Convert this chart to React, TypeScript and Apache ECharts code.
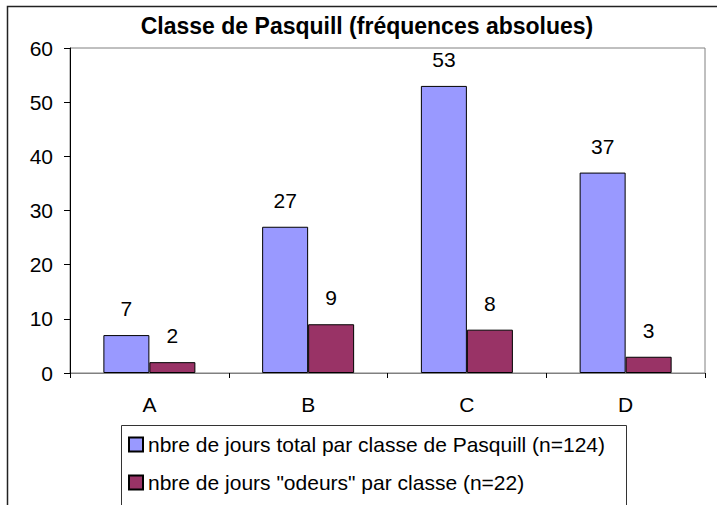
import React, { useEffect, useRef } from "react";
import * as echarts from "echarts";

const categories = ["A", "B", "C", "D"];
const totalDays = [7, 27, 53, 37];
const odourDays = [2, 9, 8, 3];
const seriesNames = [
  "nbre de jours total par classe de Pasquill (n=124)",
  'nbre de jours "odeurs" par classe (n=22)',
];
const titleText = "Classe de Pasquill (fréquences absolues)";

const FONT = "Liberation Sans, Arial, sans-serif";

export default function App() {
  const ref = useRef<HTMLDivElement>(null);
  useEffect(() => {
    if (!ref.current) return;
    const chart = echarts.init(ref.current, undefined, { renderer: "svg" });
    const label = {
      show: true,
      position: "top",
      distance: 16,
      color: "#000",
      fontSize: 21,
      fontFamily: FONT,
    };
    chart.setOption({
      animation: false,
      backgroundColor: "#fff",
      textStyle: { fontFamily: FONT },
      title: {
        text: titleText,
        left: 367,
        textAlign: "center",
        top: 14,
        padding: 0,
        textStyle: { fontSize: 23, fontWeight: "bold", color: "#000", fontFamily: FONT },
      },
      graphic: [
        {
          type: "rect",
          shape: { x: 7.5, y: 6.5, width: 760, height: 560 },
          style: { fill: "none", stroke: "#222", lineWidth: 1.5 },
          z: -1,
        },
        {
          type: "rect",
          shape: { x: 121.5, y: 425.5, width: 505, height: 200 },
          style: { fill: "none", stroke: "#333", lineWidth: 1 },
          z: 1,
        },
      ],
      grid: {
        left: 70,
        top: 48,
        right: 12,
        bottom: 132,
        show: true,
        borderColor: "#808080",
        borderWidth: 1,
        backgroundColor: "transparent",
      },
      legend: {
        orient: "vertical",
        left: 128,
        top: 434,
        itemWidth: 14,
        itemHeight: 14,
        itemGap: 17,
        icon: "rect",
        padding: 0,
        textStyle: { fontSize: 21, color: "#000", fontFamily: FONT },
        data: seriesNames,
      },
      xAxis: {
        type: "category",
        data: categories,
        axisLine: { lineStyle: { color: "#808080", width: 1 } },
        axisTick: { show: true, length: 5, lineStyle: { color: "#000" } },
        axisLabel: { fontSize: 21, color: "#000", margin: 21, fontFamily: FONT },
        splitLine: { show: false },
      },
      yAxis: {
        type: "value",
        min: 0,
        max: 60,
        interval: 10,
        axisLine: { show: true, lineStyle: { color: "#000", width: 1 } },
        axisTick: { show: true, length: 6, lineStyle: { color: "#000" } },
        axisLabel: { fontSize: 21, color: "#000", margin: 17, fontFamily: FONT },
        splitLine: { show: false },
      },
      series: [
        {
          name: seriesNames[0],
          type: "bar",
          data: totalDays,
          barWidth: 46,
          barGap: "0%",
          itemStyle: { color: "#9999FF", borderColor: "#000", borderWidth: 1 },
          label,
        },
        {
          name: seriesNames[1],
          type: "bar",
          data: odourDays,
          barWidth: 46,
          barGap: "0%",
          itemStyle: { color: "#993366", borderColor: "#000", borderWidth: 1 },
          label,
        },
      ],
    });
    return () => chart.dispose();
  }, []);
  return (
    <div
      ref={ref}
      style={{ position: "fixed", left: 0, top: 0, width: 717, height: 505, background: "#fff" }}
    />
  );
}
